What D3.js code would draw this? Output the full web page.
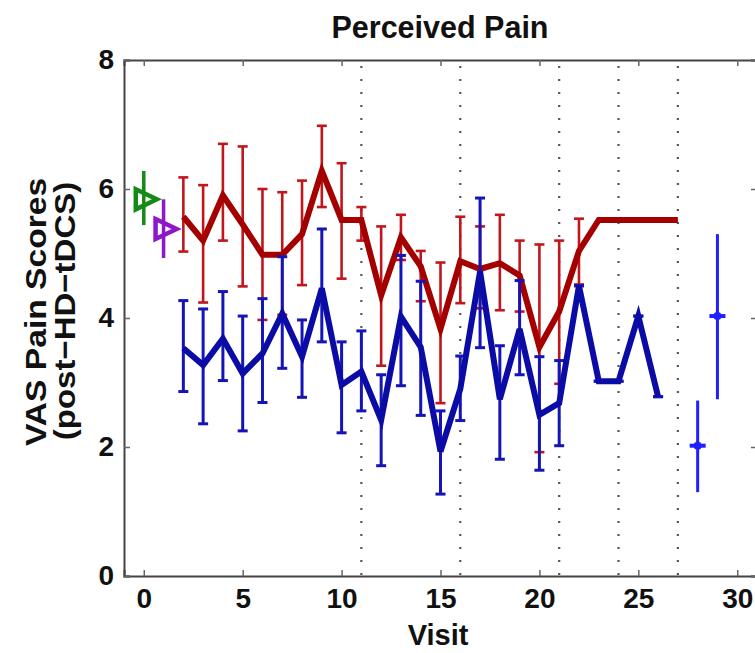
<!DOCTYPE html>
<html>
<head>
<meta charset="utf-8">
<script src="https://cdn.jsdelivr.net/npm/d3@7"></script>
<style>
  body { margin: 0; background: #fff; }
  text { font-family: "Liberation Sans", Arial, Helvetica, sans-serif; font-weight: bold; }
</style>
</head>
<body>
<div id="chart"></div>
<script>
// Perceived pain per visit
const redVisits = [2, 3, 4, 5, 6, 7, 8, 9, 10, 11, 12, 13, 14, 15, 16, 17, 18, 19, 20, 21, 22, 23, 24, 25, 26, 27];
const redMean = [5.57, 5.2, 5.9, 5.45, 4.98, 4.98, 5.3, 6.28, 5.52, 5.52, 4.35, 5.25, 4.8, 3.83, 4.88, 4.76, 4.85, 4.66, 3.55, 4.1, 5.04, 5.52, 5.52, 5.52, 5.52, 5.52];
const redUpper = [6.18, 6.06, 6.7, 6.66, 6.0, 5.95, 6.13, 6.98, 6.4, 5.72, 5.42, 5.6, 5.04, 4.86, 5.57, 5.42, 5.6, 5.2, 5.14, 5.2, 5.54, null, null, null, null, null];
const redLower = [5.03, 4.24, 5.2, 4.49, 3.97, 4.05, 4.51, 5.72, 4.61, 5.2, 3.26, 4.9, 4.26, 2.68, 4.23, 4.15, 4.12, 4.1, 1.92, 2.98, 4.52, null, null, null, null, null];

const blueVisits = [2, 3, 4, 5, 6, 7, 8, 9, 10, 11, 12, 13, 14, 15, 16, 17, 18, 19, 20, 21, 22, 23, 24, 25, 26];
const blueMean = [3.53, 3.27, 3.68, 3.14, 3.45, 4.07, 3.4, 4.46, 2.96, 3.17, 2.42, 4.02, 3.55, 1.93, 2.9, 4.72, 2.74, 3.83, 2.5, 2.68, 4.5, 3.02, 3.02, 4.03, 2.78];
const blueUpper = [4.27, 4.14, 4.41, 4.03, 4.3, 4.95, 3.97, 5.38, 3.63, 3.8, 3.12, 4.97, 4.57, 2.56, 3.41, 5.86, 3.57, 4.58, 3.4, 3.34, 4.5, 3.02, 3.02, 4.03, 2.78];
const blueLower = [2.86, 2.36, 3.03, 2.25, 2.69, 3.22, 2.77, 3.63, 2.22, 2.56, 1.71, 2.95, 2.49, 1.27, 2.41, 3.54, 1.81, 3.12, 1.64, 2.02, 4.5, 3.02, 3.02, 4.03, 2.78];

// separate points on the right
const extraVisits = [28, 29];
const extraMean = [2.02, 4.03];
const extraUpper = [2.72, 5.3];
const extraLower = [1.3, 2.74];

// baseline markers (triangles)
const baseVisits = [0, 1];
const baseMean = [5.84, 5.38];
const baseUpper = [6.28, 5.84];
const baseLower = [5.44, 4.93];
const baseColors = ["#168a16", "#8e17c9"];

const phaseLines = [11, 16, 21, 24, 27];
const xTicks = [0, 5, 10, 15, 20, 25, 30];
const yTicks = [0, 2, 4, 6, 8];

const W = 755, H = 653;
const x = d3.scaleLinear().domain([-1, 31]).range([124, 757]);
const y = d3.scaleLinear().domain([0, 8]).range([576, 60]);

const svg = d3.select("#chart").append("svg")
  .attr("width", W)
  .attr("height", H);

// dotted phase separators
svg.selectAll(".phase")
  .data(phaseLines)
  .enter().append("line")
  .attr("class", "phase")
  .attr("x1", d => x(d)).attr("x2", d => x(d))
  .attr("y1", y(8) + 6).attr("y2", y(0))
  .attr("stroke", "#555")
  .attr("stroke-width", 2.2)
  .attr("stroke-dasharray", "2,11");

// axes box
const xBottom = d3.axisBottom(x).tickValues(xTicks).tickSize(-6).tickPadding(12);
const xTop = d3.axisTop(x).tickValues(xTicks).tickSize(-6).tickFormat("");
const yLeft = d3.axisLeft(y).tickValues(yTicks).tickSize(-6).tickPadding(10);
const yRight = d3.axisRight(y).tickValues(yTicks).tickSize(-6).tickFormat("");

function styleAxis(g) {
  g.select(".domain").attr("stroke", "#444").attr("stroke-width", 2);
  g.selectAll(".tick line").attr("stroke", "#666").attr("stroke-width", 1.5);
  g.selectAll(".tick text").attr("fill", "#111").style("font-size", "28px");
}

svg.append("g").attr("transform", `translate(0,${y(0)})`).call(xBottom).call(styleAxis);
svg.append("g").attr("transform", `translate(0,${y(8)})`).call(xTop).call(styleAxis);
svg.append("g").attr("transform", `translate(${x(-1)},0)`).call(yLeft).call(styleAxis);
svg.append("g").attr("transform", `translate(${x(31)},0)`).call(yRight).call(styleAxis);

// error bars with caps
function errorBars(cls, xs, lo, hi, color, width, cap) {
  const rows = xs.map((v, i) => ({ x: v, lo: lo[i], hi: hi[i] })).filter(d => d.lo != null);
  const g = svg.append("g").attr("class", cls)
    .attr("stroke", color).attr("stroke-width", width);
  g.selectAll(".v").data(rows).enter().append("line")
    .attr("x1", d => x(d.x)).attr("x2", d => x(d.x))
    .attr("y1", d => y(d.lo)).attr("y2", d => y(d.hi));
  g.selectAll(".cl").data(rows).enter().append("line")
    .attr("x1", d => x(d.x) - cap).attr("x2", d => x(d.x) + cap)
    .attr("y1", d => y(d.lo)).attr("y2", d => y(d.lo));
  g.selectAll(".ch").data(rows).enter().append("line")
    .attr("x1", d => x(d.x) - cap).attr("x2", d => x(d.x) + cap)
    .attr("y1", d => y(d.hi)).attr("y2", d => y(d.hi));
}

const line = d3.line().x(d => x(d[0])).y(d => y(d[1]));

// red series
errorBars("red-err", redVisits, redLower, redUpper, "#c0161c", 2.6, 5);
svg.append("path")
  .datum(redVisits.map((v, i) => [v, redMean[i]]))
  .attr("d", line)
  .attr("fill", "none")
  .attr("stroke", "#a50000")
  .attr("stroke-width", 6)
  .attr("stroke-linejoin", "miter");

// blue series
errorBars("blue-err", blueVisits, blueLower, blueUpper, "#1414b8", 3, 5);
svg.append("path")
  .datum(blueVisits.map((v, i) => [v, blueMean[i]]))
  .attr("d", line)
  .attr("fill", "none")
  .attr("stroke", "#0b0ba6")
  .attr("stroke-width", 6)
  .attr("stroke-linejoin", "miter");

// extra points on the right
const extra = svg.append("g").attr("stroke", "#1f1fff").attr("fill", "#1f1fff");
extraVisits.forEach((v, i) => {
  extra.append("line")
    .attr("x1", x(v)).attr("x2", x(v))
    .attr("y1", y(extraLower[i])).attr("y2", y(extraUpper[i]))
    .attr("stroke-width", 3);
  extra.append("line")
    .attr("x1", x(v) - 8).attr("x2", x(v) + 8)
    .attr("y1", y(extraMean[i])).attr("y2", y(extraMean[i]))
    .attr("stroke-width", 4);
  extra.append("circle")
    .attr("cx", x(v)).attr("cy", y(extraMean[i])).attr("r", 4)
    .attr("stroke", "none");
});

// baseline triangles
baseVisits.forEach((v, i) => {
  const cx = x(v), cy = y(baseMean[i]);
  svg.append("line")
    .attr("x1", cx).attr("x2", cx)
    .attr("y1", y(baseLower[i])).attr("y2", y(baseUpper[i]))
    .attr("stroke", baseColors[i]).attr("stroke-width", 3.5);
  svg.append("path")
    .attr("d", `M${cx - 8},${cy - 10}L${cx + 13},${cy}L${cx - 8},${cy + 10}Z`)
    .attr("fill", "none")
    .attr("stroke", baseColors[i])
    .attr("stroke-width", 4.5)
    .attr("stroke-linejoin", "miter");
});

// titles
svg.append("text")
  .attr("x", 440).attr("y", 38)
  .attr("text-anchor", "middle")
  .style("font-size", "30.5px")
  .attr("fill", "#111")
  .text("Perceived Pain");

svg.append("text")
  .attr("x", 438).attr("y", 645)
  .attr("text-anchor", "middle")
  .style("font-size", "29px")
  .attr("fill", "#111")
  .text("Visit");

// y label is a bit stretched along its length in the original
svg.append("text")
  .attr("transform", "translate(46,312) rotate(-90) scale(1.12,1)")
  .attr("text-anchor", "middle")
  .style("font-size", "30px")
  .attr("fill", "#111")
  .text("VAS Pain Scores");

svg.append("text")
  .attr("transform", "translate(75,311) rotate(-90) scale(1.1,1)")
  .attr("text-anchor", "middle")
  .style("font-size", "30px")
  .attr("fill", "#111")
  .text("(post\u2212HD\u2212tDCS)");
</script>
</body>
</html>
